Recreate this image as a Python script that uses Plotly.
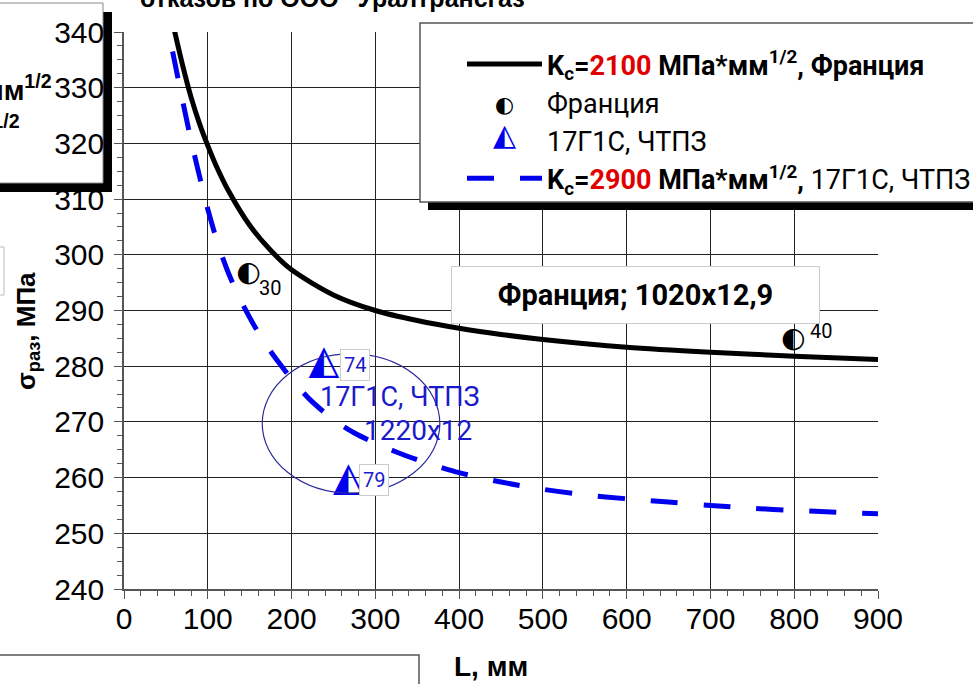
import plotly.graph_objects as go

# ---------------- data ----------------
x_ticks = [0, 100, 200, 300, 400, 500, 600, 700, 800, 900]
y_ticks = [240, 250, 260, 270, 280, 290, 300, 310, 320, 330, 340]

# Kc = 2100, France (solid black)
fr_curve_x = [60, 70, 80, 90, 100, 110, 125, 150, 175, 200, 250, 300, 350, 400, 450, 500, 600, 700, 800, 900]
fr_curve_y = [340.4, 334.0, 328.3, 323.6, 319.6, 316.0, 311.4, 305.3, 300.8, 297.3, 292.8, 290.0, 288.2,
              286.8, 285.7, 284.8, 283.4, 282.5, 281.8, 281.2]

# Kc = 2900, 17G1S ChTPZ (blue dashed)
ch_curve_x = [58, 65, 72, 80, 90, 100, 112, 125, 140, 155, 172, 185, 200, 222, 250, 275, 300, 325, 350,
              375, 400, 450, 500, 550, 600, 650, 700, 750, 800, 850, 900]
ch_curve_y = [336.5, 331.3, 326.2, 320.6, 314.2, 308.2, 302.0, 296.6, 291.6, 287.4, 283.3, 280.6, 277.7,
              274.0, 270.4, 268.0, 266.2, 264.6, 263.2, 262.0, 260.9, 259.2, 257.9, 256.9, 256.2, 255.6,
              255.0, 254.5, 254.1, 253.8, 253.5]

# failure points
fr_pts_x = [149, 799]
fr_pts_y = [296.6, 284.7]
fr_pts_lbl = ["30", "40"]

ch_pts_x = [238.7, 267.7]
ch_pts_y = [280.5, 259.6]
ch_pts_lbl = ["74", "79"]

# highlighted region (ellipse) around the ChTPZ points
ell_x = [165, 377]
ell_y = [257.2, 282.2]

# ---------------- styles ----------------
BLUE = "#0000ee"
TXTBLUE = "#1a1acc"
RED = "#e00000"
NARROW = "Liberation Sans Narrow, Arial Narrow, Liberation Sans, sans-serif"
ROBOTO = "Roboto, Liberation Sans, sans-serif"
GLYPH = "DejaVu Sans"

# plot area in pixels (for paper conversion of decorations)
PX0, PX1, PY0, PY1 = 124, 878, 32, 589
def px(p):
    return (p - PX0) / (PX1 - PX0)
def py(p):
    return (PY1 - p) / (PY1 - PY0)

fig = go.Figure()

fig.add_trace(go.Scatter(
    x=fr_curve_x, y=fr_curve_y, mode="lines",
    line=dict(color="black", width=5, shape="spline", smoothing=0.8),
    name="<b>K<sub>c</sub>=<span style='color:%s'>2100</span> МПа*мм<sup>1/2</sup>, Франция</b>" % RED,
    hoverinfo="skip"))

fig.add_trace(go.Scatter(
    x=fr_pts_x, y=fr_pts_y, mode="markers", marker=dict(color="rgba(0,0,0,0)", size=2),
    name="Франция", hoverinfo="skip"))

fig.add_trace(go.Scatter(
    x=ch_pts_x, y=ch_pts_y, mode="markers", marker=dict(color="rgba(0,0,0,0)", size=2),
    name="17Г1С, ЧТПЗ", hoverinfo="skip"))

fig.add_trace(go.Scatter(
    x=ch_curve_x, y=ch_curve_y, mode="lines",
    line=dict(color=BLUE, width=5, dash="27px,26px", shape="spline", smoothing=0.8),
    name="<b>K<sub>c</sub>=<span style='color:%s'>2900</span> МПа*мм<sup>1/2</sup>,</b> 17Г1С, ЧТПЗ" % RED,
    hoverinfo="skip"))

# glyph markers (half-filled circle / triangle)
fig.add_trace(go.Scatter(
    x=fr_pts_x, y=fr_pts_y, mode="text", text=["◐"] * len(fr_pts_x),
    textfont=dict(family=GLYPH, size=28, color="black"), showlegend=False, hoverinfo="skip"))
fig.add_trace(go.Scatter(
    x=ch_pts_x, y=ch_pts_y, mode="text", text=["◭"] * len(ch_pts_x),
    textfont=dict(family=GLYPH, size=40, color=BLUE), showlegend=False, hoverinfo="skip"))

shapes = [
    # ellipse
    dict(type="circle", xref="x", yref="y", x0=ell_x[0], x1=ell_x[1], y0=ell_y[0], y1=ell_y[1],
         line=dict(color="#2b2b9a", width=1.2), layer="above"),
    # legend shadow + box
    dict(type="rect", xref="paper", yref="paper", x0=px(428), x1=px(1000), y0=py(210), y1=py(31),
         fillcolor="black", line=dict(width=0), layer="above"),
    dict(type="rect", xref="paper", yref="paper", x0=px(420), x1=px(1000), y0=py(202), y1=py(23),
         fillcolor="white", line=dict(color="#555", width=1.5), layer="above"),
    # cut-off box top-left
    dict(type="rect", xref="paper", yref="paper", x0=px(-10), x1=px(112), y0=py(192), y1=py(12),
         fillcolor="black", line=dict(width=0), layer="below"),
    dict(type="rect", xref="paper", yref="paper", x0=px(-10), x1=px(103), y0=py(183), y1=py(3),
         fillcolor="white", line=dict(color="#888", width=1), layer="below"),
    # small cut-off box at left
    dict(type="rect", xref="paper", yref="paper", x0=px(-10), x1=px(4), y0=py(295), y1=py(247),
         fillcolor="white", line=dict(color="#bbb", width=1), layer="below"),
    # cut-off box bottom-left
    dict(type="rect", xref="paper", yref="paper", x0=px(-10), x1=px(419), y0=py(700), y1=py(655),
         fillcolor="white", line=dict(color="#555", width=1.5), layer="below"),
]

C = dict(xanchor="center", yanchor="middle", showarrow=False)
annotations = []
# point labels
annotations.append(dict(x=fr_pts_x[0], y=fr_pts_y[0], text=fr_pts_lbl[0], xshift=21, yshift=-14,
                        font=dict(family=ROBOTO, size=20, color="black"), **C))
annotations.append(dict(x=fr_pts_x[1], y=fr_pts_y[1], text=fr_pts_lbl[1], xshift=28, yshift=9,
                        font=dict(family=ROBOTO, size=20, color="black"), **C))
annotations.append(dict(x=ch_pts_x[0], y=ch_pts_y[0], text=ch_pts_lbl[0], xshift=31, yshift=-2,
                        font=dict(family=ROBOTO, size=20, color=TXTBLUE),
                        bgcolor="white", bordercolor="#ccc", borderwidth=1, borderpad=3, **C))
annotations.append(dict(x=ch_pts_x[1], y=ch_pts_y[1], text=ch_pts_lbl[1], xshift=26, yshift=0,
                        font=dict(family=ROBOTO, size=20, color=TXTBLUE),
                        bgcolor="white", bordercolor="#ccc", borderwidth=1, borderpad=3, **C))
# region labels
annotations.append(dict(x=329, y=274.5, text="17Г1С, ЧТПЗ",
                        font=dict(family=ROBOTO, size=27, color=TXTBLUE), **C))
annotations.append(dict(x=351, y=268.5, text="1220x12",
                        font=dict(family=ROBOTO, size=28, color=TXTBLUE), **C))
annotations.append(dict(x=610.5, y=292.8, text="<b>Франция; 1020x12,9</b>",
                        font=dict(family=ROBOTO, size=29, color="black"),
                        bgcolor="white", bordercolor="#ccc", borderwidth=1, borderpad=2,
                        width=363, height=52, **C))
# axis titles
annotations.append(dict(xref="paper", yref="paper", x=px(27), y=py(331), textangle=-90,
                        text="<b>σ<sub>раз</sub>, МПа</b>",
                        font=dict(family=NARROW, size=26, color="black"), **C))
annotations.append(dict(xref="paper", yref="paper", x=px(491), y=py(666),
                        text="<b>L, мм</b>",
                        font=dict(family=NARROW, size=28, color="black"), **C))
# cut-off title
annotations.append(dict(xref="paper", yref="paper", x=px(338), y=py(-2),
                        text="<b>отказов по ООО \"Уралтрансгаз\"</b>",
                        font=dict(family=NARROW, size=25, color="black"), **C))
# cut-off legend text in top-left box
annotations.append(dict(xref="paper", yref="paper", x=px(54), y=py(88), xanchor="right",
                        yanchor="middle", showarrow=False,
                        text="<b>МПа*мм<sup>1/2</sup></b>",
                        font=dict(family=NARROW, size=28, color="black")))
annotations.append(dict(xref="paper", yref="paper", x=px(22), y=py(128), xanchor="right",
                        yanchor="middle", showarrow=False,
                        text="<b>МПа*мм<sup>1/2</sup></b>",
                        font=dict(family=NARROW, size=28, color="black")))
# legend glyphs
annotations.append(dict(xref="paper", yref="paper", x=px(504), y=py(104), text="◐",
                        font=dict(family=GLYPH, size=22, color="black"), **C))
annotations.append(dict(xref="paper", yref="paper", x=px(504), y=py(134), text="◭",
                        font=dict(family=GLYPH, size=30, color=BLUE), **C))

axis_common = dict(
    showgrid=True, gridcolor="#222", gridwidth=1, zeroline=False,
    showline=True, linecolor="#555", linewidth=1.5,
    ticks="outside", ticklen=8, tickcolor="#555", tickwidth=1,
    tickfont=dict(family=NARROW, size=30, color="black"),
)

fig.update_layout(
    width=973, height=684,
    margin=dict(l=PX0, r=973 - PX1, t=PY0, b=684 - PY1, autoexpand=False),
    paper_bgcolor="white", plot_bgcolor="white",
    xaxis=dict(range=[0, 900], tickvals=x_ticks, ticklabelstandoff=-6,
               minor=dict(dtick=20, ticks="outside", ticklen=5, tickcolor="#555", showgrid=False),
               **axis_common),
    yaxis=dict(range=[240, 340], tickvals=y_ticks, ticklabelstandoff=4,
               minor=dict(dtick=2.5, ticks="outside", ticklen=5, tickcolor="#555", showgrid=False),
               **axis_common),
    shapes=shapes,
    annotations=annotations,
    showlegend=True,
    legend=dict(x=px(425), y=py(40), xanchor="left", yanchor="top",
                bgcolor="rgba(0,0,0,0)", borderwidth=0, indentation=37, itemwidth=75,
                font=dict(family=ROBOTO, size=27, color="black"), tracegroupgap=0),
)

fig.write_html("out.html")
